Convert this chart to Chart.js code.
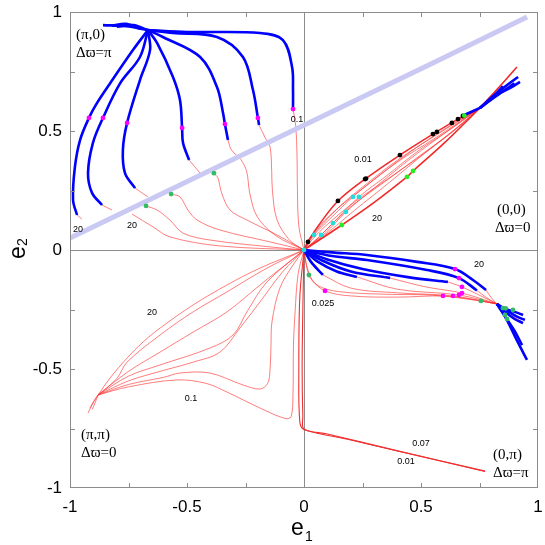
<!DOCTYPE html>
<html>
<head>
<meta charset="utf-8">
<script src="https://cdn.jsdelivr.net/npm/chart.js@4.4.0/dist/chart.umd.min.js"></script>
<style>
  html, body { margin: 0; padding: 0; background: #fff; }
  #wrap { width: 545px; height: 545px; }
</style>
</head>
<body>
<div id="wrap"><canvas id="chart-e1-e2"></canvas></div>
<script>
// axis ticks
var majorTicks = [-1, -0.5, 0, 0.5, 1];
var minorTicks = [-0.75, -0.5, -0.25, 0, 0.25, 0.5, 0.75];

// separatrix (light lavender band)
var lavenderLine = [[-1.0, 0.05], [0.551, 0.786], [0.953, 0.979]];

// (pi,0) corner: thick blue arcs out of the hub, red tails towards the origin
var blueTopLeft = [
  [[-0.667, 0.924], [-0.731, 0.84], [-0.829, 0.70], [-0.885, 0.617], [-0.919, 0.555], [-0.957, 0.462], [-0.979, 0.349], [-0.987, 0.21], [-0.970, 0.147]],
  [[-0.667, 0.924], [-0.701, 0.811], [-0.786, 0.70], [-0.859, 0.555], [-0.902, 0.45], [-0.923, 0.323], [-0.906, 0.24], [-0.863, 0.189]],
  [[-0.667, 0.924], [-0.658, 0.84], [-0.701, 0.714], [-0.756, 0.534], [-0.774, 0.42], [-0.765, 0.323], [-0.722, 0.26]],
  [[-0.667, 0.924], [-0.628, 0.87], [-0.560, 0.727], [-0.530, 0.63], [-0.521, 0.513], [-0.517, 0.45], [-0.491, 0.378]],
  [[-0.667, 0.924], [-0.603, 0.895], [-0.444, 0.811], [-0.372, 0.685], [-0.346, 0.576], [-0.338, 0.529], [-0.325, 0.462]],
  [[-0.667, 0.924], [-0.560, 0.912], [-0.372, 0.895], [-0.261, 0.811], [-0.218, 0.672], [-0.197, 0.555], [-0.192, 0.525]],
  [[-0.667, 0.924], [-0.500, 0.916], [-0.188, 0.912], [-0.090, 0.882], [-0.051, 0.769], [-0.047, 0.672], [-0.047, 0.592]],
  [[-0.667, 0.924], [-0.76, 0.94], [-0.859, 0.945]],
  [[-0.667, 0.924], [-0.73, 0.945], [-0.80, 0.938]],
  [[-0.70, 0.93], [-0.76, 0.95], [-0.82, 0.942]]
];
var redTopLeft = [
  [[-0.970, 0.147], [-0.949, 0.130]],
  [[-0.863, 0.189], [-0.821, 0.168]],
  [[-0.722, 0.26], [-0.667, 0.223]],
  [[-0.491, 0.378], [-0.444, 0.323]],
  [[-0.325, 0.462], [-0.31, 0.42], [-0.27, 0.38], [-0.245, 0.33], [-0.232, 0.24], [-0.20, 0.14], [-0.12, 0.06], [0, 0]],
  [[-0.192, 0.525], [-0.165, 0.47], [-0.145, 0.433], [-0.138, 0.33], [-0.135, 0.25], [-0.115, 0.126], [-0.06, 0.04], [0, 0]],
  [[-0.047, 0.592], [-0.035, 0.52], [-0.030, 0.40], [-0.028, 0.25], [-0.022, 0.10], [0, 0]],
  [[-0.385, 0.323], [-0.368, 0.303], [-0.352, 0.24], [-0.316, 0.168], [-0.244, 0.126], [-0.115, 0.063], [0, 0]],
  [[-0.568, 0.235], [-0.530, 0.223], [-0.496, 0.168], [-0.457, 0.126], [-0.359, 0.084], [-0.145, 0.034], [0, 0]],
  [[-0.675, 0.185], [-0.628, 0.168], [-0.573, 0.126], [-0.517, 0.071], [-0.402, 0.042], [-0.145, 0.013], [0, 0]],
  [[-0.735, 0.151], [-0.645, 0.097], [-0.573, 0.055], [-0.359, 0.017], [0, 0]]
];

// (0,0) corner: bundle of red arcs from the origin to the node
var redBundleEdges = [
  [[0, 0], [0.017, 0.034], [0.06, 0.10], [0.145, 0.206], [0.261, 0.298], [0.41, 0.399], [0.551, 0.487], [0.658, 0.55], [0.752, 0.597]],
  [[0, 0], [0.162, 0.105], [0.30, 0.20], [0.44, 0.307], [0.466, 0.332], [0.60, 0.45], [0.752, 0.597]],
  [[0.752, 0.597], [0.83, 0.68], [0.910, 0.769]]
];
var redBundle = [
  [[0, 0], [0.03, 0.05], [0.08, 0.11], [0.16, 0.19], [0.27, 0.28], [0.41, 0.385], [0.56, 0.48], [0.752, 0.597]],
  [[0, 0], [0.02, 0.045], [0.07, 0.105], [0.15, 0.18], [0.26, 0.265], [0.40, 0.37], [0.56, 0.47], [0.752, 0.597]],
  [[0, 0], [0.043, 0.063], [0.11, 0.13], [0.209, 0.223], [0.33, 0.32], [0.48, 0.43], [0.62, 0.52], [0.752, 0.597]],
  [[0, 0], [0.073, 0.063], [0.14, 0.13], [0.235, 0.223], [0.35, 0.31], [0.50, 0.425], [0.63, 0.51], [0.752, 0.597]],
  [[0, 0], [0.06, 0.05], [0.124, 0.113], [0.21, 0.19], [0.35, 0.29], [0.50, 0.40], [0.64, 0.50], [0.752, 0.597]],
  [[0, 0], [0.05, 0.06], [0.12, 0.125], [0.22, 0.205], [0.36, 0.30], [0.52, 0.41], [0.65, 0.51], [0.752, 0.597]],
  [[0, 0], [0.09, 0.07], [0.179, 0.160], [0.30, 0.26], [0.45, 0.38], [0.60, 0.49], [0.752, 0.597]],
  [[0, 0], [0.11, 0.08], [0.22, 0.17], [0.36, 0.28], [0.52, 0.41], [0.66, 0.52], [0.752, 0.597]]
];
var blueTopRight = [
  [[0.752, 0.597], [0.80, 0.64], [0.85, 0.68], [0.915, 0.727]],
  [[0.752, 0.597], [0.82, 0.65], [0.88, 0.68], [0.923, 0.706]],
  [[0.752, 0.597], [0.80, 0.635], [0.850, 0.689]],
  [[0.752, 0.597], [0.84, 0.66], [0.90, 0.70]],
  [[0.68, 0.565], [0.752, 0.597]]
];

// (0,pi) corner
var blueBottomRight = [
  [[0, 0], [0.12, -0.01], [0.269, -0.021], [0.483, -0.050], [0.645, -0.080], [0.722, -0.126], [0.778, -0.168]],
  [[0, 0], [0.12, -0.025], [0.269, -0.042], [0.526, -0.084], [0.662, -0.118], [0.739, -0.17]],
  [[0, 0], [0.1, -0.04], [0.25, -0.08], [0.45, -0.115], [0.615, -0.134]],
  [[0, 0], [0.08, -0.045], [0.2, -0.09], [0.368, -0.118]],
  [[0, 0], [0.06, -0.05], [0.14, -0.09], [0.226, -0.113]],
  [[0, 0], [0.03, -0.05], [0.081, -0.105]],
  [[0.825, -0.227], [0.85, -0.244], [0.90, -0.26], [0.936, -0.273]],
  [[0.825, -0.227], [0.86, -0.25], [0.91, -0.28], [0.944, -0.294]],
  [[0.825, -0.227], [0.86, -0.26], [0.90, -0.29], [0.936, -0.307]],
  [[0.825, -0.227], [0.86, -0.28], [0.90, -0.34], [0.932, -0.40]],
  [[0.825, -0.227], [0.865, -0.29], [0.91, -0.38], [0.953, -0.462]]
];
var redBottomRight = [
  [[0.778, -0.168], [0.80, -0.20], [0.825, -0.227]],
  [[0.739, -0.17], [0.78, -0.20], [0.825, -0.227]],
  [[0.615, -0.134], [0.675, -0.155], [0.76, -0.195], [0.825, -0.227]],
  [[0.368, -0.118], [0.52, -0.155], [0.675, -0.181], [0.825, -0.227]],
  [[0.226, -0.113], [0.40, -0.165], [0.662, -0.189], [0.825, -0.227]],
  [[0.081, -0.105], [0.20, -0.16], [0.40, -0.18], [0.637, -0.193], [0.825, -0.227]],
  [[0, 0], [0.01, -0.06], [0.035, -0.125], [0.09, -0.172], [0.2, -0.193], [0.4, -0.198], [0.594, -0.193], [0.70, -0.205], [0.825, -0.227]],
  [[0, 0], [0.021, -0.105], [0.06, -0.15], [0.15, -0.175], [0.35, -0.186], [0.55, -0.19], [0.756, -0.214], [0.825, -0.227]],
  [[0.825, -0.227], [0.87, -0.30], [0.90, -0.36]],
  [[0.825, -0.227], [0.86, -0.26], [0.93, -0.30]]
];

// (pi,pi) corner
var redBottomLeft = [
  [[-0.880, -0.609], [-0.829, -0.538], [-0.756, -0.454], [-0.688, -0.387], [-0.615, -0.328], [-0.474, -0.231], [-0.329, -0.147], [-0.188, -0.076], [0, 0]],
  [[-0.880, -0.609], [-0.80, -0.54], [-0.756, -0.471], [-0.615, -0.357], [-0.474, -0.26], [-0.329, -0.176], [-0.158, -0.076], [0, 0]],
  [[-0.880, -0.609], [-0.75, -0.51], [-0.615, -0.429], [-0.474, -0.345], [-0.329, -0.26], [-0.188, -0.147], [0, 0]],
  [[-0.880, -0.609], [-0.75, -0.53], [-0.615, -0.483], [-0.402, -0.412], [-0.303, -0.357], [-0.244, -0.26], [-0.158, -0.134], [0, 0]],
  [[-0.880, -0.609], [-0.75, -0.55], [-0.615, -0.51], [-0.47, -0.47], [-0.359, -0.429], [-0.274, -0.328], [-0.188, -0.218], [-0.09, -0.09], [0, 0]],
  [[-0.880, -0.609], [-0.75, -0.565], [-0.60, -0.535], [-0.530, -0.517], [-0.402, -0.517], [-0.261, -0.567], [-0.188, -0.584], [-0.155, -0.56], [-0.145, -0.50], [-0.141, -0.40], [-0.137, -0.303], [-0.103, -0.160], [-0.047, -0.063], [0, 0]],
  [[-0.880, -0.609], [-0.75, -0.575], [-0.543, -0.546], [-0.42, -0.56], [-0.329, -0.597], [-0.188, -0.664], [-0.08, -0.708], [-0.055, -0.70], [-0.047, -0.60], [-0.045, -0.40], [-0.038, -0.26], [-0.025, -0.10], [0, 0]],
  [[-0.880, -0.609], [-0.90, -0.64], [-0.923, -0.685]],
  [[-0.880, -0.609], [-0.895, -0.63], [-0.915, -0.664]],
  [[-0.880, -0.609], [-0.89, -0.635], [-0.905, -0.67]]
];
var redLongLine = [
  [[0, 0], [-0.005, -0.25], [-0.008, -0.5], [-0.005, -0.70], [0, -0.752], [0.1, -0.773], [0.4, -0.844], [0.774, -0.929]],
  [[0, 0], [-0.018, -0.2], [-0.022, -0.5], [-0.018, -0.72], [0, -0.754], [0.2, -0.798], [0.774, -0.931]]
];

// marker dots
var magentaDots = [
  [-0.919, 0.555], [-0.859, 0.555], [-0.756, 0.534], [-0.521, 0.513], [-0.338, 0.529], [-0.197, 0.555], [-0.047, 0.592],
  [0.645, -0.080], [0.662, -0.118], [0.675, -0.155], [0.675, -0.181], [0.662, -0.189], [0.637, -0.193], [0.594, -0.193], [0.09, -0.172]
];
var greenDots = [
  [-0.675, 0.185], [-0.568, 0.235], [-0.385, 0.323],
  [0.021, -0.105], [0.756, -0.214], [0.850, -0.244], [0.859, -0.273], [0.868, -0.29], [0.893, -0.252], [0.862, -0.245]
];
var brightGreenDots = [[0.162, 0.105], [0.440, 0.307], [0.466, 0.332], [0.685, 0.565]];
var cyanDots = [[0.043, 0.063], [0.073, 0.063], [0.124, 0.113], [0.179, 0.160], [0.209, 0.223], [0.235, 0.223], [0, 0]];
var blackDots = [
  [0.017, 0.034], [0.145, 0.206], [0.261, 0.298], [0.265, 0.300], [0.410, 0.399],
  [0.551, 0.487], [0.568, 0.496], [0.632, 0.534], [0.658, 0.550], [0.679, 0.563]
];

// texts inside the plot
var curveLabels = [
  ["0.1", -0.030, 0.550], ["20", -0.966, 0.088], ["20", -0.735, 0.101],
  ["0.01", 0.252, 0.382], ["20", 0.312, 0.134], ["20", 0.748, -0.059],
  ["0.025", 0.081, -0.223], ["20", -0.650, -0.261], ["0.1", -0.483, -0.626],
  ["0.07", 0.5, -0.811], ["0.01", 0.436, -0.887]
];
var cornerLabels = [
  ["(\u03c0,0)", -0.974, 0.903], ["\u0394\u03d6=\u03c0", -0.974, 0.828],
  ["(0,0)", 0.825, 0.168], ["\u0394\u03d6=0", 0.816, 0.092],
  ["(\u03c0,\u03c0)", -0.953, -0.777], ["\u0394\u03d6=0", -0.953, -0.853],
  ["(0,\u03c0)", 0.808, -0.861], ["\u0394\u03d6=\u03c0", 0.808, -0.937]
];

function toPoints(curve) {
  return curve.map(function (p) {
    return { x: p[0], y: p[1] };
  });
}

function lineSets(curves, color, width, order) {
  return curves.map(function (c) {
    return {
      data: toPoints(c),
      showLine: true,
      fill: false,
      borderColor: color,
      borderWidth: width,
      pointRadius: 0,
      tension: 0.35,
      order: order,
    };
  });
}

function dotSet(dots, color, radius) {
  return {
    data: toPoints(dots),
    showLine: false,
    pointRadius: radius,
    pointBackgroundColor: color,
    pointBorderWidth: 0,
    order: 0,
  };
}

var datasets = []
  .concat(lineSets(redTopLeft, "rgba(255,40,40,0.6)", 1, 5))
  .concat(lineSets(redBundle, "rgba(255,40,40,0.6)", 1, 5))
  .concat(lineSets(redBottomRight, "rgba(255,40,40,0.6)", 1, 5))
  .concat(lineSets(redBottomLeft, "rgba(255,40,40,0.6)", 1, 5))
  .concat(lineSets(redBundleEdges, "#f02a2a", 1.6, 4))
  .concat(lineSets(redLongLine, "#f03030", 1.1, 4));
datasets.push({
  data: toPoints(lavenderLine),
  showLine: true,
  fill: false,
  borderColor: "#c9c9f3",
  borderWidth: 5,
  pointRadius: 0,
  tension: 0,
  order: 3,
});
datasets = datasets
  .concat(lineSets(blueTopLeft, "#0000ff", 2.6, 2))
  .concat(lineSets(blueTopRight, "#0000ff", 2.6, 2))
  .concat(lineSets(blueBottomRight, "#0000ff", 2.6, 2));
datasets.push(dotSet(magentaDots, "#ff00ff", 2.4));
datasets.push(dotSet(greenDots, "#33bb66", 2.4));
datasets.push(dotSet(brightGreenDots, "#22ee22", 2.4));
datasets.push(dotSet(cyanDots, "#22dddd", 2.4));
datasets.push(dotSet(blackDots, "#000000", 2.4));

var frameAndText = {
  id: "frameAndText",
  afterDatasetsDraw: function (chart) {
    var ctx = chart.ctx;
    var xs = chart.scales.x;
    var ys = chart.scales.y;
    var a = chart.chartArea;
    ctx.save();
    ctx.strokeStyle = "#8c8c8c";
    ctx.lineWidth = 1;
    ctx.strokeRect(a.left + 0.5, a.top + 0.5, a.right - a.left - 1, a.bottom - a.top - 1);
    ctx.beginPath();
    minorTicks.forEach(function (v) {
      var px = Math.round(xs.getPixelForValue(v)) + 0.5;
      var py = Math.round(ys.getPixelForValue(v)) + 0.5;
      ctx.moveTo(px, a.bottom); ctx.lineTo(px, a.bottom - 5);
      ctx.moveTo(px, a.top); ctx.lineTo(px, a.top + 5);
      ctx.moveTo(a.left, py); ctx.lineTo(a.left + 5, py);
      ctx.moveTo(a.right, py); ctx.lineTo(a.right - 5, py);
    });
    ctx.stroke();

    ctx.fillStyle = "#000";
    ctx.font = '9px "Liberation Sans", Arial, sans-serif';
    ctx.textAlign = "center";
    ctx.textBaseline = "middle";
    curveLabels.forEach(function (l) {
      ctx.fillText(l[0], xs.getPixelForValue(l[1]), ys.getPixelForValue(l[2]));
    });

    ctx.font = '15px "Liberation Serif", "DejaVu Serif", serif';
    ctx.textAlign = "left";
    cornerLabels.forEach(function (l) {
      ctx.fillText(l[0], xs.getPixelForValue(l[1]), ys.getPixelForValue(l[2]));
    });

    // axis titles e1 / e2
    ctx.textBaseline = "alphabetic";
    ctx.font = '23px "Liberation Sans", Arial, sans-serif';
    ctx.fillText("e", 291, 535);
    ctx.font = '14px "Liberation Sans", Arial, sans-serif';
    ctx.fillText("1", 305, 541);
    ctx.translate(24.5, 250);
    ctx.rotate(-Math.PI / 2);
    ctx.font = '23px "Liberation Sans", Arial, sans-serif';
    ctx.fillText("e", -9, 0);
    ctx.font = '14px "Liberation Sans", Arial, sans-serif';
    ctx.fillText("2", 4, 2);
    ctx.restore();
  },
};

var tickFont = { size: 17, family: '"Liberation Sans", Arial, sans-serif' };
function zeroLine(c) {
  return c.tick && c.tick.value === 0 ? "#8c8c8c" : "rgba(0,0,0,0)";
}
function noPadding(s) {
  s.paddingTop = 0;
  s.paddingBottom = 0;
  s.paddingLeft = 0;
  s.paddingRight = 0;
}

new Chart(document.getElementById("chart-e1-e2").getContext("2d"), {
  type: "scatter",
  data: { datasets: datasets },
  options: {
    responsive: true,
    maintainAspectRatio: false,
    animation: false,
    layout: { padding: { top: 12, right: 7, left: 0, bottom: 0 } },
    plugins: {
      legend: { display: false },
      tooltip: { enabled: false },
    },
    scales: {
      x: {
        type: "linear",
        min: -1,
        max: 1,
        afterFit: function (s) { s.height = 57; noPadding(s); },
        afterBuildTicks: function (s) {
          s.ticks = majorTicks.map(function (v) { return { value: v }; });
        },
        grid: { drawTicks: false, color: zeroLine, lineWidth: 1 },
        border: { display: false },
        ticks: {
          padding: 9,
          maxRotation: 0,
          autoSkip: false,
          color: "#000",
          font: tickFont,
          callback: function (value) { return String(value); },
        },
      },
      y: {
        type: "linear",
        min: -1,
        max: 1,
        afterFit: function (s) { s.width = 70; noPadding(s); },
        afterBuildTicks: function (s) {
          s.ticks = majorTicks.map(function (v) { return { value: v }; });
        },
        grid: { drawTicks: false, color: zeroLine, lineWidth: 1 },
        border: { display: false },
        ticks: {
          padding: 8,
          autoSkip: false,
          color: "#000",
          font: tickFont,
          callback: function (value) { return String(value); },
        },
      },
    },
  },
  plugins: [frameAndText],
});
</script>
</body>
</html>
